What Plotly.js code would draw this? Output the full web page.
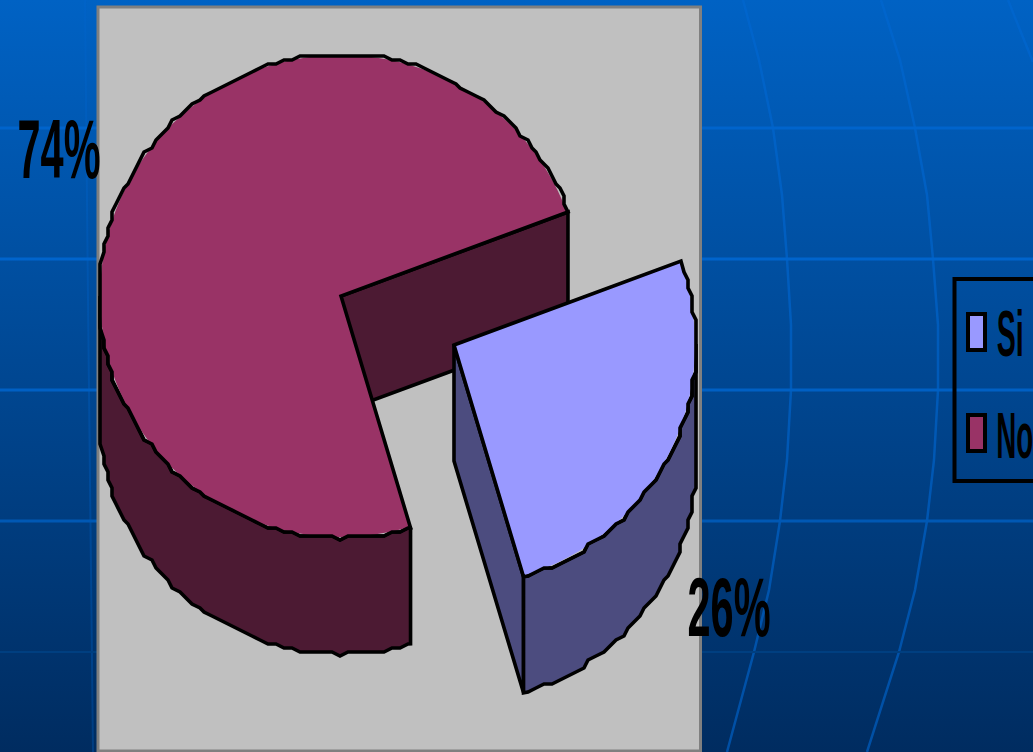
<!DOCTYPE html>
<html>
<head>
<meta charset="utf-8">
<script src="https://cdn.plot.ly/plotly-3.0.1.min.js"></script>
<style>
html,body{margin:0;padding:0;width:1033px;height:752px;overflow:hidden;background:linear-gradient(180deg,#0062c4 0%,#002c60 100%);}
#chart{width:1033px;height:752px;}
</style>
</head>
<body>
<div id="chart"></div>
<script>
// ---- data ----
const categories = ['Si', 'No'];
const values = [26, 74];
const pctLabels = ['26%', '74%'];
const faceColors = ['#9999ff', '#993366'];
const wallColors = ['#4c4c7f', '#4c1a33'];

// ---- geometry of the drawing (pixels of the 1033x752 frame) ----
const W = 1033, H = 752, R = 242, DEPTH = 116, ROT = 69.7, GRID = 4, STEP = 2, LW = 3.6;
const centreNo = [341, 296], centreSi = [454, 345];
const total = values[0] + values[1];
const sweepSi = 360 * values[0] / total;
const endSi = ROT + sweepSi;
const rad = d => d * Math.PI / 180;
const pt = (c, a, r) => [c[0] + r * Math.sin(rad(a)), c[1] - r * Math.cos(rad(a))];
const snap = v => Math.round(v / GRID) * GRID;

// stepped edge like the low-resolution outline of the original:
// angles strictly between a0 and a1 (a0 < a1) on a fixed angular grid
function stepped(c, a0, a1, dy) {
  const out = [];
  for (let a = Math.ceil((a0 + 0.5) / STEP) * STEP; a < a1 - 0.5; a += STEP) {
    const p = pt(c, a, R);
    out.push([snap(p[0]), snap(p[1]) + dy]);
  }
  return out;
}
function poly(points, color) {
  const closed = points.concat([points[0]]);
  return {
    type: 'scatter', mode: 'lines', x: closed.map(p => p[0]), y: closed.map(p => p[1]),
    fill: 'toself', fillcolor: color, line: {color: '#000', width: LW, simplify: false},
    hoverinfo: 'skip', showlegend: false, xaxis: 'x', yaxis: 'y'
  };
}
// end of an outer wall: the silhouette tangent sits on the grid, a cut corner stays exact
function wallEnd(c, a) {
  const p = pt(c, a, R);
  return a % 90 === 0 ? [snap(p[0]), snap(p[1])] : p;
}
// outer wall: upper edge one way, lower edge back
function outerWall(c, a0, a1, color) {
  const s = wallEnd(c, a0), e = wallEnd(c, a1);
  return poly([s].concat(stepped(c, a0, a1, 0)).concat([e, [e[0], e[1] + DEPTH]])
    .concat(stepped(c, a0, a1, DEPTH).reverse()).concat([[s[0], s[1] + DEPTH]]), color);
}
function cutWall(c, a, color) {
  const e = pt(c, a, R);
  return poly([c, e, [e[0], e[1] + DEPTH], [c[0], c[1] + DEPTH]], color);
}

const walls = [
  cutWall(centreNo, ROT + 360, wallColors[1]),
  outerWall(centreNo, endSi, 270, wallColors[1]),
  cutWall(centreSi, endSi, wallColors[0]),
  outerWall(centreSi, 90, endSi, wallColors[0])
];

function face(c, idx) {
  const colors = faceColors.map((col, i) => i === idx ? col : 'rgba(0,0,0,0)');
  const r = R - 1;
  return {
    type: 'pie', labels: categories, values: values, sort: false, direction: 'clockwise',
    rotation: ROT, textinfo: 'none', hoverinfo: 'label+percent', showlegend: false,
    domain: {x: [(c[0] - r) / W, (c[0] + r) / W], y: [1 - (c[1] + r) / H, 1 - (c[1] - r) / H]},
    marker: {colors: colors, line: {color: 'rgba(0,0,0,0)', width: 0}}
  };
}

// ---- background ornament ----
function pline(pts, close) { return 'M' + pts.map(p => p.join(',')).join('L') + (close ? 'Z' : ''); }
const curve1 = [[743,0],[759,60],[773,128],[782,195],[787,259],[791,325],[791,390],[787,460],[780,521],[769,590],[754,652],[727,752]];
const curve2 = [[881,0],[900,60],[915,128],[927,195],[933,259],[938,325],[938,390],[934,460],[927,521],[915,590],[899,652],[867,752]];
const curve3 = [[1008,0],[1020,30],[1033,62]];
const hLines = [[128,'#0064cc',3],[259,'#0064cc',3],[390,'#0060c4',3],[521,'#0058b4',3],[652,'#003f80',2]];
const shapes = [];
[curve1, curve2, curve3].forEach(c => shapes.push({type:'path', path:pline(c), xref:'x', yref:'y', layer:'below', line:{color:'rgba(0,104,210,0.6)', width:2.5}}));
shapes.push({type:'path', path:pline([[85,0],[88,300],[93,752]]), xref:'x', yref:'y', layer:'below', line:{color:'rgba(0,104,210,0.3)', width:2}});
hLines.forEach(l => shapes.push({type:'line', x0:0, x1:W, y0:l[0], y1:l[0], xref:'x', yref:'y', layer:'below', line:{color:l[1], width:l[2]}}));
// plot panel
shapes.push({type:'rect', x0:98, x1:700.5, y0:7, y1:751, xref:'x', yref:'y', layer:'below', fillcolor:'#c0c0c0', line:{color:'#808080', width:3}});
// stepped outlines of the two top faces, above the pie fills
shapes.push({type:'path', xref:'x', yref:'y', layer:'above', line:{color:'#000', width:LW},
  path: pline([centreNo, pt(centreNo, endSi, R)].concat(stepped(centreNo, endSi, ROT + 360, 0)).concat([pt(centreNo, ROT, R)]), true)});
shapes.push({type:'path', xref:'x', yref:'y', layer:'above', line:{color:'#000', width:LW},
  path: pline([centreSi, pt(centreSi, ROT, R)].concat(stepped(centreSi, ROT, endSi, 0)).concat([pt(centreSi, endSi, R)]), true)});
// legend box and keys
shapes.push({type:'rect', x0:954.5, x1:1060, y0:279, y1:481, xref:'x', yref:'y', layer:'above', fillcolor:'rgba(0,0,0,0)', line:{color:'#000', width:4}});
shapes.push({type:'rect', x0:968, x1:985, y0:314, y1:350, xref:'x', yref:'y', layer:'above', fillcolor:faceColors[0], line:{color:'#000', width:4}});
shapes.push({type:'rect', x0:968, x1:985, y0:415, y1:451, xref:'x', yref:'y', layer:'above', fillcolor:faceColors[1], line:{color:'#000', width:4}});

const textFont = (s) => ({family:'"Liberation Sans", Arial, sans-serif', size:s, color:'#000', weight:700});
const note = (text, x, y, size) => ({text:'<b>'+text+'</b>', x:x, y:y, xref:'x', yref:'y', xanchor:'center', yanchor:'middle', showarrow:false, font:textFont(size), borderpad:0, align:'center'});
// widths the condensed lettering takes up in the original
const targetWidths = {'74%':83, '26%':83, 'Si':27, 'No':37};
const annotations = [
  note(pctLabels[1], 59, 149, 84),
  note(pctLabels[0], 729, 607, 84),
  note(categories[0], 1010, 334, 64),
  note(categories[1], 1014.5, 436, 64)
];

const layout = {
  width: W, height: H, margin: {l:0, r:0, t:0, b:0},
  paper_bgcolor: 'rgba(0,0,0,0)', plot_bgcolor: 'rgba(0,0,0,0)',
  xaxis: {range:[0,W], visible:false, fixedrange:true},
  yaxis: {range:[H,0], visible:false, fixedrange:true},
  showlegend: false, shapes: shapes, annotations: annotations
};

Plotly.newPlot('chart', walls.concat([face(centreNo, 1), face(centreSi, 0)]), layout, {staticPlot:true, displayModeBar:false}).then(gd => {
  // the original lettering is strongly condensed: squeeze each label about its own centre
  gd.querySelectorAll('.annotation-text').forEach(t => {
    const w = targetWidths[t.textContent];
    if (!w) return;
    const b = t.getBBox(), sx = w / b.width, cx = b.x + b.width / 2;
    t.setAttribute('transform', 'translate(' + cx + ',0) scale(' + sx + ',1) translate(' + (-cx) + ',0)');
  });
});
</script>
</body>
</html>
